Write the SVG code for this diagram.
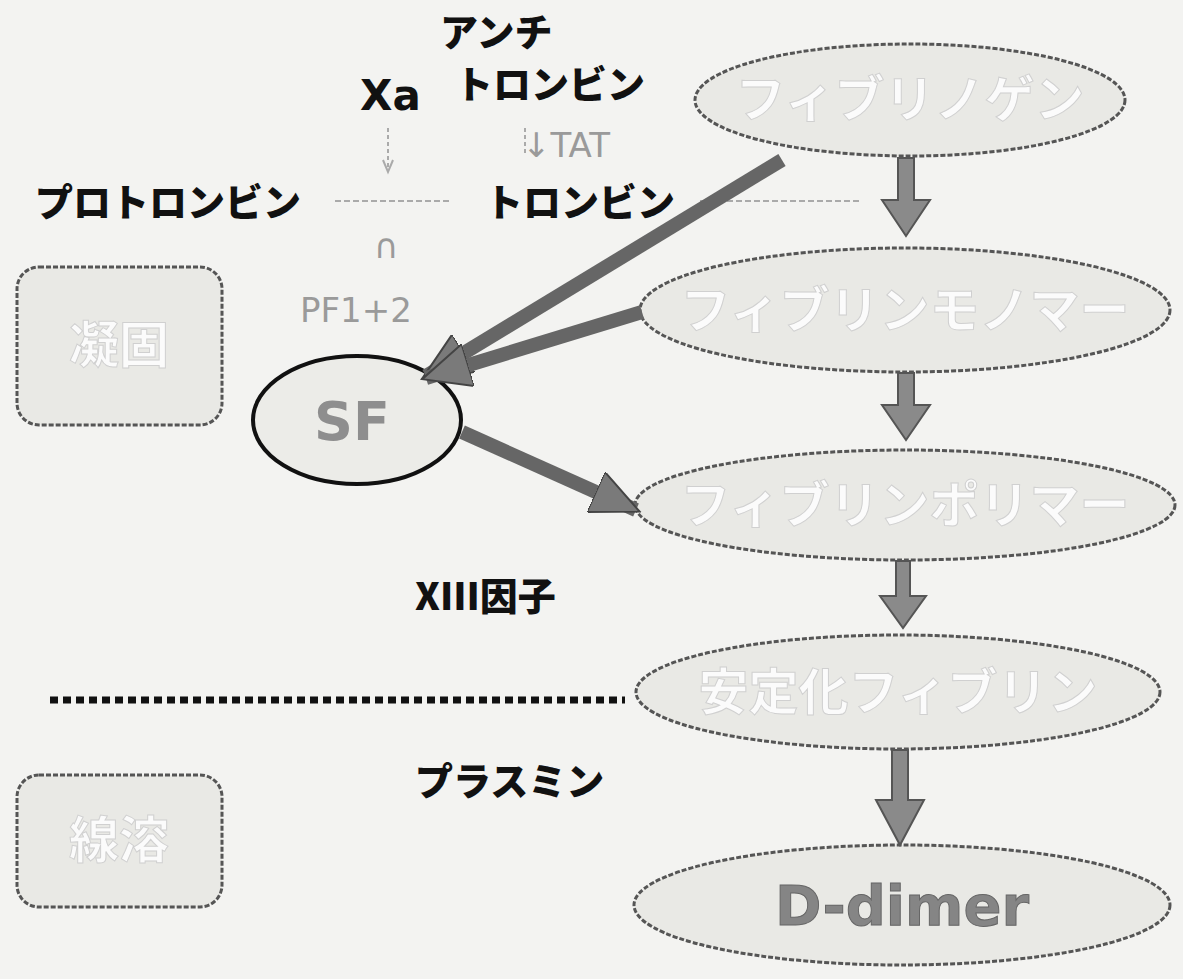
<svg xmlns="http://www.w3.org/2000/svg" width="1183" height="979" viewBox="0 0 1183 979">
<style>
.lbl{font-family:"Noto Sans CJK JP","Noto Sans",sans-serif;font-weight:900;fill:#111;font-size:38px}
.faint{font-family:"DejaVu Sans","Noto Sans",sans-serif;fill:#9a9a9a;font-size:34px}
.node{fill:#e9e9e5;stroke:#555;stroke-width:3;stroke-dasharray:5 2}
.ntxt{font-family:"Noto Sans CJK JP","Noto Sans",sans-serif;font-weight:bold;fill:#fbfbfb;stroke:#d0d0d0;stroke-width:1;font-size:50px;text-anchor:middle}
.thick{stroke:#666;stroke-width:14;fill:none}
.vt{fill:#8a8a8a;stroke:#555;stroke-width:2}
</style>
<defs>
<marker id="ah" markerUnits="userSpaceOnUse" markerWidth="50" markerHeight="44" refX="44" refY="22" orient="auto">
<path d="M0,0 L48,22 L0,44 Z" fill="#7a7a7a" stroke="#444" stroke-width="2"/>
</marker>
</defs>
<rect width="1183" height="979" fill="#f3f3f1"/>
<g id="labels">
<text class="lbl" x="440" y="46">アンチ</text>
<text class="lbl" x="455" y="98">トロンビン</text>
<text x="360" y="110" font-family="DejaVu Sans,sans-serif" font-weight="bold" font-size="42" fill="#111">Xa</text>
<text class="faint" x="522" y="157">↓TAT</text>
<text class="lbl" x="35" y="216">プロトロンビン</text>
<text class="lbl" x="485" y="216">トロンビン</text>
<text class="faint" x="374" y="258">∩</text>
<text class="faint" x="300" y="322">PF1+2</text>
<text class="lbl" x="415" y="610">XIII因子</text>
<text class="lbl" x="415" y="795">プラスミン</text>
</g>
<g id="box-coag">
<rect class="node" x="17" y="267" width="205" height="158" rx="22"/>
<text class="ntxt" x="119" y="363">凝固</text>
</g>
<g id="box-fib">
<rect class="node" x="17" y="775" width="205" height="132" rx="22"/>
<text class="ntxt" x="119" y="858">線溶</text>
</g>
<g id="n-fibrinogen">
<ellipse class="node" cx="910" cy="100" rx="215" ry="56"/>
<text class="ntxt" x="910" y="117">フィブリノゲン</text>
</g>
<g id="n-monomer">
<ellipse class="node" cx="905" cy="310" rx="265" ry="62"/>
<text class="ntxt" x="905" y="328">フィブリンモノマー</text>
</g>
<g id="n-polymer">
<ellipse class="node" cx="905" cy="505" rx="270" ry="55"/>
<text class="ntxt" x="905" y="523">フィブリンポリマー</text>
</g>
<g id="n-stable">
<ellipse class="node" cx="898" cy="692" rx="262" ry="57"/>
<text class="ntxt" x="898" y="710">安定化フィブリン</text>
</g>
<g id="n-ddimer">
<ellipse class="node" cx="902" cy="905" rx="268" ry="60"/>
<text x="902" y="925" text-anchor="middle" font-family="DejaVu Sans,sans-serif" font-weight="bold" font-size="56" fill="#858585" stroke="#666" stroke-width="1">D-dimer</text>
</g>
<g id="n-sf">
<ellipse cx="357" cy="420" rx="104" ry="64" fill="#ecece8" stroke="#111" stroke-width="4"/>
<text x="352" y="440" text-anchor="middle" font-family="DejaVu Sans,sans-serif" font-weight="bold" font-size="54" fill="#8e8e8e">SF</text>
</g>
<g id="connectors">
<line x1="335" y1="201" x2="452" y2="201" stroke="#aaa" stroke-width="2" stroke-dasharray="6 3"/>
<line x1="700" y1="201" x2="860" y2="201" stroke="#aaa" stroke-width="2" stroke-dasharray="6 3"/>
<line x1="388" y1="128" x2="388" y2="168" stroke="#aaa" stroke-width="2" stroke-dasharray="4 3"/>
<path d="M383,160 L388,172 L393,160" fill="none" stroke="#aaa" stroke-width="2"/>
<line x1="525" y1="128" x2="525" y2="155" stroke="#aaa" stroke-width="2" stroke-dasharray="4 3"/>
<line class="thick" x1="782" y1="160" x2="426" y2="376" marker-end="url(#ah)"/>
<line class="thick" x1="642" y1="312" x2="426" y2="378" marker-end="url(#ah)"/>
<line class="thick" x1="462" y1="432" x2="636" y2="510" marker-end="url(#ah)"/>
<path class="vt" d="M898,158 L914,158 L914,200 L930,200 L906,236 L882,200 L898,200 Z"/>
<path class="vt" d="M898,373 L914,373 L914,405 L930,405 L906,440 L882,405 L898,405 Z"/>
<path class="vt" d="M896,561 L910,561 L910,596 L926,596 L903,628 L880,596 L896,596 Z"/>
<path class="vt" d="M892,750 L908,750 L908,800 L924,800 L900,845 L876,800 L892,800 Z"/>
<line x1="50" y1="700" x2="625" y2="700" stroke="#111" stroke-width="7" stroke-dasharray="8 5"/>
</g>
</svg>
